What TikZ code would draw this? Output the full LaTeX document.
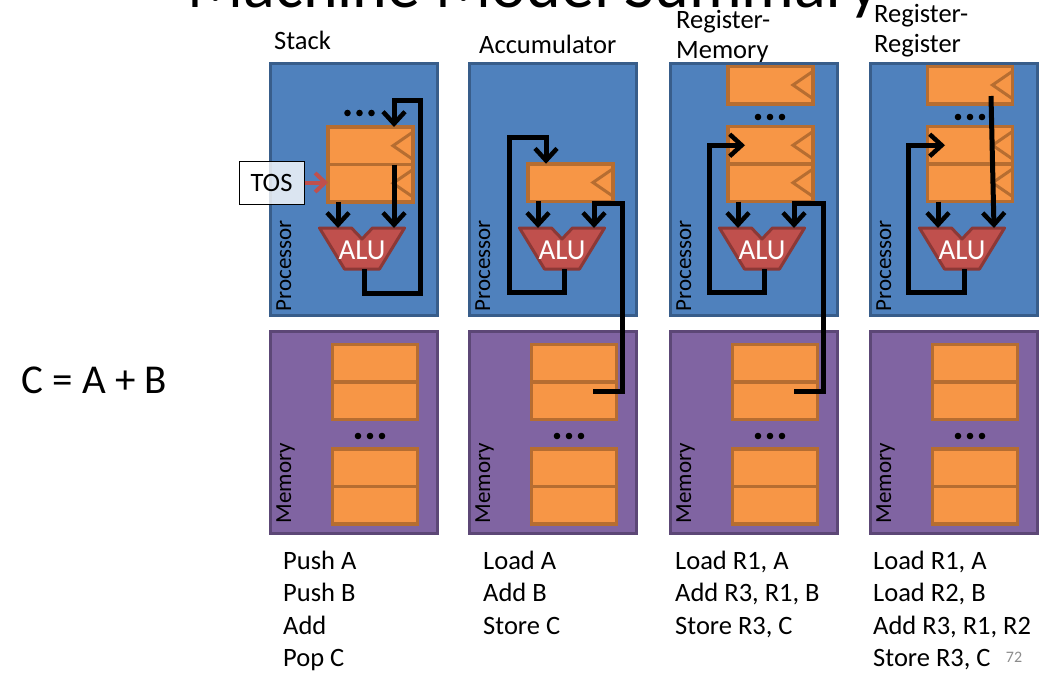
\documentclass[tikz,border=0pt]{standalone}
\usepackage{fontspec}
\setmainfont{Carlito}
\usepackage{tikz}
\usetikzlibrary{positioning,arrows.meta}

\definecolor{procfill}{HTML}{4F81BD}
\definecolor{procline}{HTML}{385D8A}
\definecolor{memfill}{HTML}{8064A2}
\definecolor{memline}{HTML}{5C4776}
\definecolor{cellfill}{HTML}{F79646}
\definecolor{cellline}{HTML}{B66D31}
\definecolor{alufill}{HTML}{C0504D}
\definecolor{aluedge}{HTML}{8C3836}
\definecolor{tosred}{HTML}{C0504D}

\tikzset{
  procbox/.style={draw=procline, fill=procfill, line width=3pt, minimum width=167pt, minimum height=252pt, inner sep=0pt},
  membox/.style={draw=memline, fill=memfill, line width=3pt, minimum width=167pt, minimum height=202pt, inner sep=0pt},
  cell/.style={draw=cellline, fill=cellfill, line width=3.5pt, minimum width=85pt, minimum height=37.5pt, inner sep=0pt, outer sep=0pt},
  clkline/.style={draw=cellline, line width=3pt},
  aluline/.style={draw=aluedge, fill=alufill, line width=3pt, line join=round},
  alutext/.style={text=white, inner sep=0pt, font=\fontsize{29}{32}\selectfont},
  sidelabel/.style={rotate=90, anchor=base west, inner sep=0pt, font=\fontsize{23}{26}\selectfont},
  coltitle/.style={anchor=west, inner sep=0pt, align=left, font=\fontsize{26.5}{30}\selectfont},
  code/.style={anchor=north west, inner sep=0pt, align=left, font=\fontsize{26.5}{32.3}\selectfont},
  tosbox/.style={draw=black, line width=1pt, fill=white, fill opacity=0.8, text opacity=1, minimum width=65pt, minimum height=43pt, inner sep=0pt, font=\fontsize{26.5}{30}\selectfont},
  bus/.style={line width=5pt, -{Straight Barb[length=12pt,width=22pt,line width=4.5pt]}},
  tosarrow/.style={draw=tosred, line width=4pt, -{Straight Barb[length=10pt,width=19pt,line width=4pt]}},
}

% "<" clock mark on the right side of a register
\newcommand{\clk}[1]{\draw[clkline] ([yshift=-5pt]#1.north east) -- ([xshift=-20pt]#1.east) -- ([yshift=5pt]#1.south east);}
% three dots
\newcommand{\dotrow}[2]{\foreach \d in {-12,0,12} \fill (#1+\d,#2) circle (3.3pt);}
% ALU: #1 = name, #2 = x of its centre
\newcommand{\alu}[2]{%
  \draw[aluline] (#2-42.5,228) -- (#2-10.5,228) -- (#2,239) -- (#2+10.5,228) -- (#2+42.5,228) -- (#2+17.5,269) -- (#2-17.5,269) -- cycle;
  \node[alutext] (#1) at (#2,250) {ALU};
  \coordinate (#1L) at (#2-24,228);
  \coordinate (#1R) at (#2+32,228);
  \coordinate (#1O) at (#2+2,269);
}
% memory box with four cells: #1 = prefix, #2 = x of its centre
\newcommand{\memunit}[2]{%
  \node[membox] (#1mem) at (#2,432) {};
  \node[cell] (#1m1) at (#2+21,363) {};
  \node[cell, below=0pt of #1m1] (#1m2) {};
  \node[cell] (#1m3) at (#2+21,467.75) {};
  \node[cell, below=0pt of #1m3] (#1m4) {};
  \dotrow{#2+16}{436}
  \node[sidelabel] (#1memlbl) at ([xshift=22pt,yshift=11pt]#1mem.south west) {Memory};
}

\begin{document}
\begin{tikzpicture}[x=1pt,y=-1pt]
\useasboundingbox (0,0) rectangle (1050,680);

% slide title, cut off by the top edge
\node[anchor=base west, inner sep=0pt, font=\fontsize{66}{72}\selectfont] (title) at (187,8) {Machine Model Summary};

% the statement
\node[anchor=west, inner sep=0pt, font=\fontsize{41}{45}\selectfont] (expr) at (21,380) {C = A + B};

% column titles
\node[coltitle] (tstack) at (274,40) {Stack};
\node[coltitle] (tacc) at (479,44) {Accumulator};
\node[coltitle] (tregmem) at (676,37) {Register-\\Memory};
\node[coltitle] (tregreg) at (874,31) {Register-\\Register};

% Stack
\node[procbox] (sproc) at (354,189) {};
\node[sidelabel] (sproclbl) at ([xshift=22pt,yshift=5pt]sproc.south west) {Processor};
\node[cell] (sc1) at (370.5,145.75) {};
\node[cell, below=0pt of sc1] (sc2) {};
\clk{sc1} \clk{sc2}
\dotrow{359.5}{113}
\alu{salu}{362}
\memunit{s}{354}

% Accumulator
\node[procbox] (aproc) at (553,189) {};
\node[sidelabel] (aproclbl) at ([xshift=22pt,yshift=5pt]aproc.south west) {Processor};
\node[cell] (ac1) at (570.5,182.5) {};
\clk{ac1}
\alu{aalu}{562}
\memunit{a}{553}

% Register-Memory
\node[procbox] (rmproc) at (754,189) {};
\node[sidelabel] (rmproclbl) at ([xshift=22pt,yshift=5pt]rmproc.south west) {Processor};
\node[cell] (rm0) at (770.5,85) {};
\node[cell] (rm1) at (770.5,145.25) {};
\node[cell, below=0pt of rm1] (rm2) {};
\clk{rm0} \clk{rm1} \clk{rm2}
\dotrow{770}{117}
\alu{rmalu}{762}
\memunit{rm}{754}

% Register-Register
\node[procbox] (rrproc) at (954,189) {};
\node[sidelabel] (rrproclbl) at ([xshift=22pt,yshift=5pt]rrproc.south west) {Processor};
\node[cell] (rr0) at (970,85) {};
\node[cell] (rr1) at (970,145.25) {};
\node[cell, below=0pt of rr1] (rr2) {};
\clk{rr0} \clk{rr1} \clk{rr2}
\dotrow{970}{117}
\alu{rralu}{962}
\memunit{rr}{954}

% data paths
\draw[bus] (sc2.south -| saluL) -- (saluL);
\draw[bus] (sc2.north -| saluR) -- (saluR);
\draw[bus] (saluO) |- (420,293) |- ([yshift=27pt]sc1.north -| saluR) -- (sc1.north -| saluR);

\draw[bus] (ac1.south -| aaluL) -- (aaluL);
\draw[bus] (aaluO) |- (509,292) |- ([xshift=-24.5pt,yshift=26pt]ac1.north) -- ([xshift=-24.5pt]ac1.north);
\draw[bus] ([xshift=19pt,yshift=9.5pt]am2.center) -| (622,203) -| (aaluR);

\draw[bus] (rm2.south -| rmaluL) -- (rmaluL);
\draw[bus] (rmaluO) |- (709,292) |- ([xshift=-25.5pt]rm1.center);
\draw[bus] ([xshift=19pt,yshift=9.5pt]rmm2.center) -| (823,203) -| (rmaluR);

\draw[bus] (rr2.south -| rraluL) -- (rraluL);
\draw[bus] (rraluO) |- (908,292) |- ([xshift=-25pt]rr1.center);
\draw[bus] ([xshift=21pt,yshift=-11pt]rr0.center) -- (rraluR);

% top of stack pointer
\node[tosbox] (tos) at (271.5,182.5) {TOS};
\draw[tosarrow] (tos.east) -- (tos.east -| sc2.west);

% instruction sequences
\node[code] (cstack) at (283,551) {Push A\\Push B\\Add\\Pop C};
\node[code] (cacc) at (483,551) {Load A\\Add B\\Store C};
\node[code] (cregmem) at (675,551) {Load R1, A\\Add R3, R1, B\\Store R3, C};
\node[code] (cregreg) at (873,551) {Load R1, A\\Load R2, B\\Add R3, R1, R2\\Store R3, C};

% page number
\node[inner sep=0pt, text=black!45, font=\fontsize{16}{18}\selectfont] (pnum) at (1014,657) {72};
\end{tikzpicture}
\end{document}
